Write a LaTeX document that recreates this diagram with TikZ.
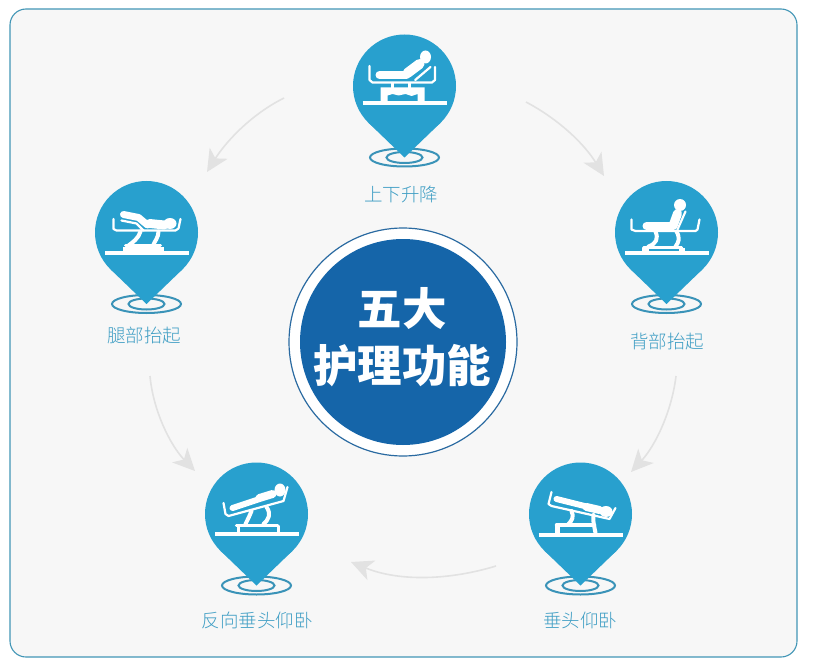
\documentclass[tikz,border=0pt]{standalone}
\usepackage{fontspec}
\usepackage{tikz}
\usetikzlibrary{arrows.meta,calc}
\newfontfamily\cjk[UprightFont={* Light},BoldFont={* Black}]{Noto Sans CJK SC}
\definecolor{pinblue}{HTML}{28A0CE}
\definecolor{ringblue}{HTML}{3A93B8}
\definecolor{labelblue}{HTML}{3F9EC4}
\definecolor{hubblue}{HTML}{1565A9}
\definecolor{framegray}{HTML}{F7F7F7}
\definecolor{flowgray}{HTML}{E2E2E2}
\def \pinr{51.5}
\tikzset{
  pin/.style={shape=circle, fill=pinblue, inner sep=0pt, minimum size=2*\pinr pt},
  tag/.style={text=labelblue, font=\cjk\fontsize{18.5}{20}\selectfont, inner sep=0pt},
  flow/.style={draw=flowgray, line width=1.6pt, -{Stealth[length=22pt,width=21pt,inset=6pt]}},
  base/.style={draw=white, line width=4pt},
  rail/.style={draw=white, line width=2.2pt, line join=round, line cap=round},
  limb/.style={draw=white, line cap=round, line join=round, line width=7pt},
}
% tip and ripples of a pin
\newcommand{\pinfoot}[1]{
  \draw[ringblue, line width=2pt] ($(#1)+(0,71.5)$) ellipse (34.5pt and 9pt);
  \draw[ringblue, line width=2pt] ($(#1)+(0,71.5)$) ellipse (18pt and 5.5pt);
  \fill[pinblue] ($(#1)+(-35.8,37)$) -- ($(#1)+(0,71.5)$) -- ($(#1)+(35.8,37)$) -- cycle;
}
\begin{document}
\begin{tikzpicture}[x=1pt, y=-1pt]
  \useasboundingbox (0,0) rectangle (816,671);
  \draw[draw=pinblue!70!gray, fill=framegray, line width=1.1pt, rounded corners=16pt] (10,9) rectangle (797,657);

  % arrows
  \coordinate (a1) at (284,98);  \coordinate (a2) at (207,172);
  \coordinate (b1) at (526,102); \coordinate (b2) at (604,176);
  \coordinate (c1) at (676,376); \coordinate (c2) at (631,472);
  \coordinate (d1) at (496,566); \coordinate (d2) at (351,562);
  \coordinate (e1) at (150,376); \coordinate (e2) at (195,471);
  \draw[flow] (a1) .. controls (250,115) and (225,143) .. (a2);
  \draw[flow] (b1) .. controls (560,120) and (585,145) .. (b2);
  \draw[flow] (c1) .. controls (672,410) and (656,445) .. (c2);
  \draw[flow] (d1) .. controls (450,580) and (400,582) .. (d2);
  \draw[flow] (e1) .. controls (153,410) and (170,445) .. (e2);

  % centre
  \node[shape=circle, draw=hubblue!80!gray, line width=1.2pt, fill=white, inner sep=0pt, minimum size=228pt] (ring) at (403,342) {};
  \node[shape=circle, fill=hubblue, inner sep=0pt, minimum size=206pt] (hub) at (403,342) {};
  \node[text=white, font=\cjk\bfseries\fontsize{44.5}{50}\selectfont, inner sep=0pt] (hubtop) at (402,308) {五大};
  \node[text=white, font=\cjk\bfseries\fontsize{44.5}{50}\selectfont, inner sep=0pt] (hubbot) at (402,366) {护理功能};

  % pins
  \pinfoot{404.5,86} \pinfoot{146.5,232.5} \pinfoot{666.5,232.5} \pinfoot{256.5,514} \pinfoot{580.5,514}
  \node[pin] (lift) at (404.5,86) {};
  \node[pin] (leg) at (146.5,232.5) {};
  \node[pin] (back) at (666.5,232.5) {};
  \node[pin] (rev) at (256.5,514) {};
  \node[pin] (head) at (580.5,514) {};

  \node[tag] (liftlab) at (401,194) {上下升降};
  \node[tag] (leglab) at (144,336) {腿部抬起};
  \node[tag] (backlab) at (667,342) {背部抬起};
  \node[tag] (revlab) at (257,620) {反向垂头仰卧};
  \node[tag] (headlab) at (580,620) {垂头仰卧};

  % lift
  \begin{scope}[shift={(lift)}]
    \draw[base] (-42,17.5) -- (42,17.5);
    \draw[rail] (-35,-20) -- (-35,-6) -- (-32,-3.5) -- (27.5,-3.5) -- (30.5,-6) -- (30.5,-19);
    \draw[rail] (10.7,-6) -- (26,-19);
    \fill[white] (21,-29) ellipse (5.5pt and 6.5pt);
    \draw[limb, line width=8pt] (-25,-11) -- (2,-11);
    \draw[limb, line width=10pt] (3,-13) -- (15,-22);
    \fill[white] (-24,1.5) -- (20,1.5) -- (20,17) -- (13,17) -- (13,8) -- (7,10) -- (1,8) -- (-6,9.5) -- (-12,8) -- (-17,9.5) -- (-17,17) -- (-24,17) -- cycle;
    \draw[rail] (-12,-3) -- (-12,3);
    \draw[rail] (5,-3) -- (5,3);
  \end{scope}

  % leg
  \begin{scope}[shift={(leg)}]
    \draw[base] (-41.5,20) -- (42,20);
    \draw[rail] (-33,-13.5) -- (-33,-3.5) -- (-30,-2) -- (29,-2) -- (32,-4) -- (34,-13.5);
    \fill[white] (23.5,-9) ellipse (6.5pt and 5.5pt);
    \draw[limb, line width=7pt] (-23,-18) -- (-8,-15) -- (1,-7.5);
    \draw[limb, line width=9pt] (3,-9) -- (18,-7.5);
    \draw[rail] (-25,-12) -- (-10,-9) -- (-3,-2);
    \draw[rail, line width=4pt] (-6,-1) .. controls (-8,6) and (-14,10) .. (-18,13);
    \draw[rail, line width=4pt] (12,-1) .. controls (12,5) and (8,9) .. (7,12);
    \draw[rail, line width=3pt] (-21,13) -- (14,13);
    \fill[white] (-24,14) rectangle (17,19);
  \end{scope}

  % back
  \begin{scope}[shift={(back)}]
    \draw[base] (-41.5,20) -- (42,20);
    \draw[rail] (-35,-13) -- (-35,-3) -- (-31,-1.5) -- (29,-1.5) -- (31,-3) -- (33,-13);
    \fill[white] (13.5,-27.5) circle (6pt);
    \draw[limb, line width=8pt] (-20,-6.5) -- (7,-6.5);
    \draw[limb, line width=9pt] (11,-19) -- (7,-8);
    \draw[rail] (11,-3) -- (19,-21);
    \draw[rail, line width=4pt] (-11,-1) .. controls (-8,6) and (-10,11) .. (-18,14);
    \draw[rail, line width=4pt] (10,-1) .. controls (14,6) and (12,10) .. (9,14);
    \draw[rail, line width=3pt] (-23,14.5) -- (15,14.5);
    \fill[white] (-25,15) rectangle (-18,20);
    \fill[white] (12,15) rectangle (18,20);
  \end{scope}

  % reverse tilt
  \begin{scope}[shift={(rev)}]
    \draw[base] (-41.5,20) -- (42,20);
    \draw[rail] (-33,-11) -- (-31,0) -- (-28,2) -- (27,-13) -- (31,-27);
    \fill[white] (23.5,-24) ellipse (5.5pt and 6.5pt);
    \draw[limb, line width=8pt] (16,-20) -- (3,-16);
    \draw[limb, line width=6pt] (3,-15) -- (-24,-6);
    \draw[rail, line width=4pt] (-5,-3) .. controls (-7,2) and (-9,6) .. (-11,10);
    \draw[rail, line width=4pt] (10,-7) .. controls (15,0) and (12,6) .. (7,10);
    \draw[rail, line width=3.5pt] (-20,11.5) -- (21,11.5);
    \draw[rail, line width=3pt] (-18,12) -- (-18,19);
    \draw[rail, line width=3pt] (22,12) -- (22,19);
  \end{scope}

  % head down
  \begin{scope}[shift={(head)}]
    \draw[base] (-42,21) -- (42,21);
    \draw[rail] (-29,-22) -- (-32,-10) -- (-29,-8) -- (29,5) -- (35,-6);
    \fill[white] (25.5,-2.5) ellipse (6.5pt and 5.5pt);
    \draw[limb, line width=8pt] (19,-4) -- (6,-7);
    \draw[limb, line width=6pt] (6,-7.5) -- (-24,-15);
    \draw[rail, line width=4pt] (-9,-3) .. controls (-6,3) and (-9,7) .. (-12,10);
    \draw[rail, line width=4pt] (13,1) .. controls (12,7) and (14,13) .. (15,19);
    \draw[rail, line width=3.5pt] (-24,11) -- (14,11);
    \fill[white] (-26,11) rectangle (-21,20);
  \end{scope}
\end{tikzpicture}
\end{document}
